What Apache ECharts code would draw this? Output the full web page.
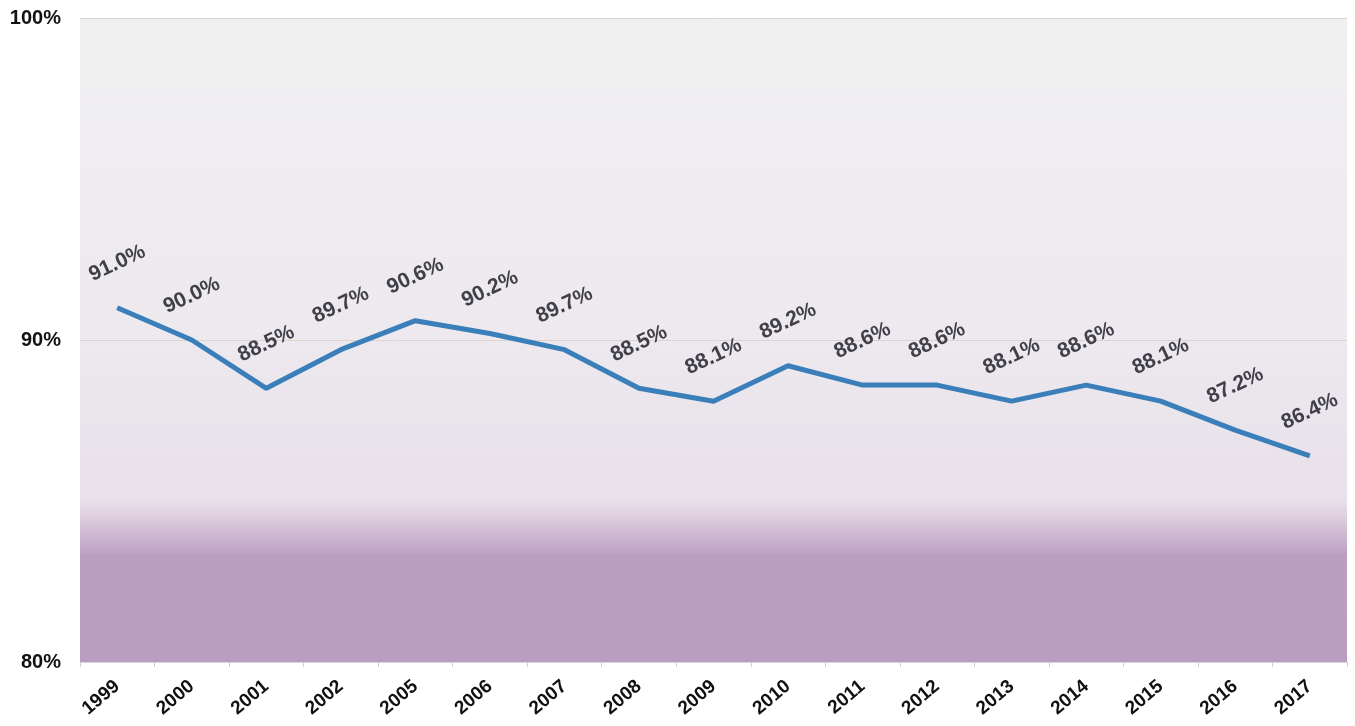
<!DOCTYPE html>
<html>
<head>
<meta charset="utf-8">
<script src="https://cdn.jsdelivr.net/npm/echarts@6/dist/echarts.min.js"></script>
<style>
  html, body { margin: 0; padding: 0; background: #fff; }
  #chart { width: 1355px; height: 726px; }
</style>
</head>
<body>
<div id="chart"></div>
<script>
// years on the x axis (2003 and 2004 are not in the source)
const years = ['1999', '2000', '2001', '2002', '2005', '2006', '2007', '2008', '2009',
  '2010', '2011', '2012', '2013', '2014', '2015', '2016', '2017']
// share in percent
const values = [91.0, 90.0, 88.5, 89.7, 90.6, 90.2, 89.7, 88.5, 88.1,
  89.2, 88.6, 88.6, 88.1, 88.6, 88.1, 87.2, 86.4]
const yMin = 80
const yMax = 100
const yStep = 10

const chart = echarts.init(document.getElementById('chart'))

chart.setOption({
  animation: false,
  textStyle: { fontFamily: 'Liberation Sans, Arial, sans-serif' },
  grid: {
    left: 80, right: 8, top: 18, bottom: 64,
    show: true,
    borderWidth: 0,
    backgroundColor: {
      type: 'linear', x: 0, y: 0, x2: 0, y2: 1,
      colorStops: [
        { offset: 0, color: '#f1f0f1' },
        { offset: 0.5, color: '#ede9ee' },
        { offset: 0.745, color: '#e8e0ea' },
        { offset: 0.76, color: '#e6d9e6' },
        { offset: 0.8, color: '#cfbbd3' },
        { offset: 0.835, color: '#ba9fc3' },
        { offset: 1, color: '#b99ec2' }
      ]
    }
  },
  xAxis: {
    type: 'category',
    data: years,
    boundaryGap: true,
    axisLine: { lineStyle: { color: '#d9d9d9', width: 1 } },
    axisTick: { show: true, length: 5, lineStyle: { color: '#d0d0d0' } },
    axisLabel: {
      rotate: 40,
      margin: 22,
      interval: 0,
      color: '#111',
      fontSize: 19,
      fontWeight: 'bold'
    }
  },
  yAxis: {
    type: 'value',
    min: yMin,
    max: yMax,
    interval: yStep,
    axisLine: { show: false },
    axisTick: { show: false },
    splitLine: { lineStyle: { color: '#dcd3cc', width: 1 } },
    axisLabel: {
      margin: 19,
      color: '#111',
      fontSize: 20,
      fontWeight: 'bold',
      formatter: v => v + '%'
    }
  },
  series: [{
    type: 'line',
    data: values,
    symbol: 'circle',
    symbolSize: 1,
    showSymbol: true,
    itemStyle: { color: '#3a7fb9' },
    lineStyle: { color: '#3a7fb9', width: 5 },
    label: {
      show: true,
      position: 'top',
      distance: 44,
      rotate: 25,
      align: 'center',
      verticalAlign: 'middle',
      color: '#404048',
      fontSize: 21,
      fontWeight: 'bold',
      formatter: p => p.value.toFixed(1) + '%'
    }
  }]
})
</script>
</body>
</html>
